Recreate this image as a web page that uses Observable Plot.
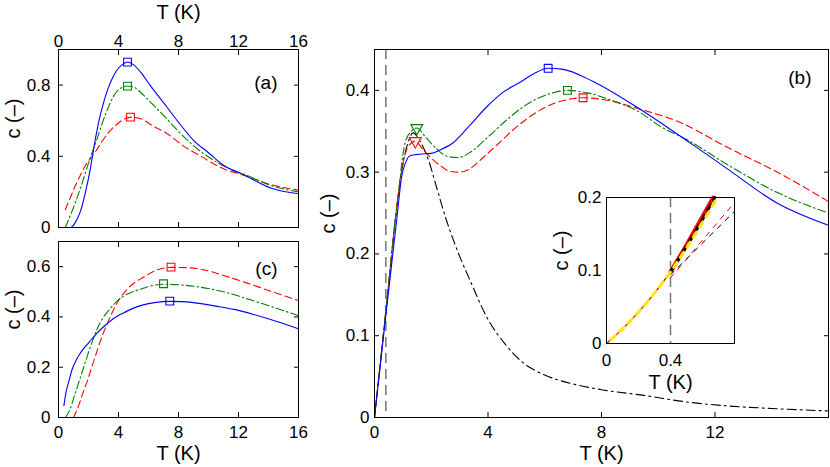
<!DOCTYPE html>
<html><head><meta charset="utf-8">
<script src="https://cdn.jsdelivr.net/npm/d3@7"></script>
<script src="https://cdn.jsdelivr.net/npm/@observablehq/plot@0.6"></script>
<style>
body{margin:0;background:#fff}
#fig{position:relative;width:830px;height:467px;overflow:hidden;background:#fff}
</style></head><body><div id="fig"></div>
<script>
// ---------- data ----------
// Panel (a)
const aBlueT = [0.45,0.8,1.2,1.5,1.8,2.1,2.4,2.7,3.0,3.3,3.6,3.9,4.25,4.6,5.0,5.5,6.1,7.2,8.1,9.0,10.0,11.0,12.5,14.2,16];
const aBlueC = [0,0,0.04,0.1,0.2,0.32,0.47,0.6,0.7,0.78,0.84,0.885,0.915,0.93,0.915,0.87,0.8,0.68,0.58,0.49,0.42,0.35,0.29,0.22,0.19];
const aGreenT = [0.45,0.8,1.15,1.5,1.82,2.15,2.5,2.85,3.2,3.5,3.85,4.2,4.6,5.1,5.65,6.3,7.0,8.0,9.0,10.8,12.5,14.2,16];
const aGreenC = [0,0.07,0.146,0.23,0.315,0.4,0.48,0.57,0.65,0.71,0.76,0.785,0.795,0.785,0.745,0.69,0.63,0.54,0.46,0.355,0.295,0.235,0.2];
const aRedT = [0.45,0.8,1.15,1.5,1.8,2.15,2.5,2.95,3.4,3.9,4.4,4.85,5.3,5.65,6.3,7.2,8.3,9.5,11.0,12.5,14.2,16];
const aRedC = [0.1,0.17,0.24,0.3,0.35,0.39,0.43,0.49,0.54,0.58,0.61,0.62,0.615,0.605,0.57,0.53,0.46,0.4,0.33,0.29,0.24,0.21];
const aPeakT = [4.6,4.6,4.8];
const aPeakC = [0.929,0.794,0.62];

// Panel (c)
const cBlueT = [0.36,0.5,0.7,0.9,1.15,1.5,2.05,2.6,3.18,3.7,4.3,5.0,5.65,6.4,7.4,8.2,9.0,10.5,11.7,13,14.5,16];
const cBlueC = [0.047,0.1,0.146,0.19,0.225,0.26,0.30,0.338,0.37,0.395,0.415,0.435,0.448,0.457,0.462,0.461,0.457,0.443,0.43,0.41,0.383,0.353];
const cGreenT = [0.47,0.75,1.03,1.3,1.6,1.95,2.27,2.6,2.95,3.4,3.85,4.4,4.97,5.7,6.3,7.0,8.0,9.5,11,12.8,14.4,16];
const cGreenC = [0,0.03,0.08,0.13,0.185,0.25,0.305,0.355,0.395,0.43,0.46,0.485,0.50,0.515,0.525,0.53,0.528,0.518,0.5,0.468,0.437,0.405];
const cRedT = [1.0,1.3,1.6,1.95,2.27,2.6,2.95,3.3,3.6,4.0,4.5,5.0,5.6,6.5,7.5,8.5,9.5,11,12.8,14.4,16];
const cRedC = [0,0.04,0.093,0.15,0.21,0.27,0.33,0.38,0.42,0.465,0.505,0.533,0.556,0.585,0.597,0.596,0.59,0.565,0.53,0.497,0.465];
const cPeakT = [7.42,7.0,7.5];
const cPeakC = [0.463,0.532,0.598];

// Panel (b)
const bBlueT = [0,0.4,0.79,0.96,1.1,1.25,1.6,2.0,2.3,2.77,3.3,3.96,4.5,5.13,5.6,6.12,6.6,7.7,9.36,11.2,12.4,14.2,16];
const bBlueC = [0,0.125,0.244,0.295,0.312,0.32,0.322,0.323,0.327,0.336,0.355,0.38,0.397,0.41,0.42,0.427,0.426,0.411,0.377,0.334,0.305,0.262,0.235];
const bGreenT = [0,0.4,0.8,1.08,1.3,1.49,1.8,2.2,2.6,2.95,3.4,4.0,4.6,5.2,5.8,6.4,6.8,7.5,8.5,9.36,10.07,11.0,12.4,14.2,16];
const bGreenC = [0,0.13,0.262,0.336,0.35,0.354,0.343,0.328,0.319,0.318,0.325,0.343,0.362,0.379,0.391,0.398,0.40,0.397,0.386,0.373,0.356,0.34,0.31,0.275,0.25];
const bRedT = [0,0.4,0.8,1.0,1.2,1.44,1.7,2.07,2.4,2.66,3.0,3.4,3.8,4.4,5.0,5.7,6.4,7.0,7.35,8.2,9.36,10.7,12.4,14.2,16];
const bRedC = [0,0.13,0.262,0.31,0.332,0.338,0.328,0.315,0.306,0.301,0.300,0.305,0.317,0.336,0.355,0.373,0.385,0.39,0.391,0.388,0.377,0.362,0.331,0.30,0.264];
const bBlackT = [0,0.4,0.8,1.0,1.2,1.36,1.6,1.9,2.2,2.5,2.8,3.4,4.0,4.6,5.2,6.0,7.0,8.0,9.5,11,12.5,14,16];
const bBlackC = [0,0.13,0.262,0.31,0.338,0.348,0.338,0.315,0.28,0.245,0.215,0.165,0.12,0.09,0.068,0.052,0.041,0.034,0.027,0.019,0.014,0.011,0.008];
const bSquareT = [6.12,6.8,7.35];
const bSquareC = [0.427,0.40,0.391];
const bTriT = [1.49,1.44];
const bTriC = [0.354,0.338];
const cutoffT = [0.4];

// Inset
const insLowT = [0,0.1,0.2,0.3,0.4];
const insLowC = [0,0.02,0.043,0.069,0.098];
const insRedT = [0.4,0.5,0.6,0.667];
const insRedC = [0.098,0.135,0.174,0.2];
const insBlackT = [0.4,0.5,0.6,0.677];
const insBlackC = [0.098,0.133,0.17,0.2];
const insYellowT = [0,0.1,0.2,0.3,0.4,0.5,0.6,0.692];
const insYellowC = [0,0.02,0.043,0.069,0.098,0.131,0.166,0.2];
const fitT = [0.4,0.8];
const fitRedC = [0.09,0.193];
const fitBlackC = [0.094,0.181];

// tick labels
const ticks16 = [0,4,8,12,16];
const ticksB = [0,4,8,12];
const ticksA = [0,0.4,0.8];
const ticksC = [0,0.2,0.4,0.6];
const ticksBy = [0,0.1,0.2,0.3,0.4];
const ticksInsX = [0,0.4];
const ticksInsY = [0,0.1,0.2];
const colors = ["#0000ff","#008000","#ff0000"];

// ---------- helpers ----------
const FONT = "'Liberation Sans', Arial, Helvetica, sans-serif";
const zip = (T, C) => T.map((t, i) => ({T: t, c: C[i]}));
const fmt = d => String(d);
const BLUE = colors[0], GREEN = colors[1], RED = colors[2];
const DASH = "7,4", DASHDOT = "8,3,1.5,3", BLACKDD = "9,4,2,4";

function line(T, C, stroke, dash) {
  return Plot.line(zip(T, C), {x: "T", y: "c", stroke, strokeWidth: 1.1, strokeDasharray: dash, curve: "monotone-x"});
}
function squares(T, C, cols) {
  return Plot.dot(zip(T, C).map((d, i) => ({...d, col: cols[i]})), {x: "T", y: "c", symbol: "square", r: 4.4, stroke: "col", fill: "none", strokeWidth: 1.1});
}
function innerTicks(xt, yt, len = 5) {
  return [
    Plot.axisX(xt, {anchor: "bottom", tickSize: len, dy: -len, fill: "none", label: null}),
    Plot.axisX(xt, {anchor: "top", tickSize: len, dy: len, fill: "none", label: null}),
    Plot.axisY(yt, {anchor: "left", tickSize: len, dx: len, fill: "none", label: null}),
    Plot.axisY(yt, {anchor: "right", tickSize: len, dx: -len, fill: "none", label: null})
  ];
}
function place(svg, left, top) {
  svg.style.position = "absolute";
  svg.style.left = left + "px";
  svg.style.top = top + "px";
  svg.style.overflow = "visible";
  document.getElementById("fig").appendChild(svg);
}
const baseStyle = {fontFamily: FONT, background: "transparent", color: "#000"};

// ---------- panel (a) ----------
place(Plot.plot({
  width: 330, height: 235, marginLeft: 58, marginRight: 32, marginTop: 49, marginBottom: 8,
  style: baseStyle,
  x: {domain: [0, 16]}, y: {domain: [0, 1.0]},
  marks: [
    line(aRedT, aRedC, RED, DASH),
    line(aGreenT, aGreenC, GREEN, DASHDOT),
    line(aBlueT, aBlueC, BLUE, null),
    squares(aPeakT, aPeakC, colors),
    ...innerTicks(ticks16, ticksA),
    Plot.axisX(ticks16, {anchor: "top", tickSize: 0, tickPadding: 3, label: null, fontSize: 17, tickFormat: fmt}),
    Plot.axisY(ticksA, {anchor: "left", tickSize: 0, tickPadding: 8, label: null, fontSize: 17, tickFormat: fmt}),
    Plot.text(["T (K)"], {frameAnchor: "top", dy: -37, fontSize: 20, lineAnchor: "middle"}),
    Plot.text(["c (–)"], {frameAnchor: "left", dx: -45, rotate: -90, fontSize: 20, lineAnchor: "middle"}),
    Plot.text(["(a)"], {frameAnchor: "top-right", dx: -21, dy: 33, fontSize: 19, textAnchor: "end", lineAnchor: "middle"}),
    Plot.frame({stroke: "#000"})
  ]
}), 0, 0);

// ---------- panel (c) ----------
place(Plot.plot({
  width: 330, height: 232, marginLeft: 58, marginRight: 32, marginTop: 6, marginBottom: 50,
  style: baseStyle,
  x: {domain: [0, 16]}, y: {domain: [0, 0.7]},
  marks: [
    line(cRedT, cRedC, RED, DASH),
    line(cGreenT, cGreenC, GREEN, DASHDOT),
    line(cBlueT, cBlueC, BLUE, null),
    squares(cPeakT, cPeakC, colors),
    ...innerTicks(ticks16, ticksC),
    Plot.axisX(ticks16, {anchor: "bottom", tickSize: 0, tickPadding: 8, label: null, fontSize: 17, tickFormat: fmt}),
    Plot.axisY(ticksC, {anchor: "left", tickSize: 0, tickPadding: 8, label: null, fontSize: 17, tickFormat: fmt}),
    Plot.text(["T (K)"], {frameAnchor: "bottom", dy: 36, fontSize: 20, lineAnchor: "middle"}),
    Plot.text(["c (–)"], {frameAnchor: "left", dx: -45, rotate: -90, fontSize: 20, lineAnchor: "middle"}),
    Plot.text(["(c)"], {frameAnchor: "top-right", dx: -21, dy: 27, fontSize: 19, textAnchor: "end", lineAnchor: "middle"}),
    Plot.frame({stroke: "#000"})
  ]
}), 0, 235);

// ---------- panel (b) ----------
place(Plot.plot({
  width: 510, height: 467, marginLeft: 54, marginRight: 2, marginTop: 49, marginBottom: 50,
  style: baseStyle,
  x: {domain: [0, 16]}, y: {domain: [0, 0.45]},
  marks: [
    Plot.ruleX(cutoffT, {stroke: "#777", strokeWidth: 1.5, strokeDasharray: "10,6"}),
    line(bBlackT, bBlackC, "#000", BLACKDD),
    line(bRedT, bRedC, RED, DASH),
    line(bGreenT, bGreenC, GREEN, DASHDOT),
    line(bBlueT, bBlueC, BLUE, null),
    squares(bSquareT, bSquareC, colors),
    Plot.dot(zip(bTriT, bTriC).map((d, i) => ({...d, col: [GREEN, RED][i]})), {x: "T", y: "c", symbol: "triangle", rotate: 180, r: 4.4, stroke: "col", fill: "none", strokeWidth: 1.1}),
    ...innerTicks(ticksB, ticksBy),
    Plot.axisX(ticksB, {anchor: "bottom", tickSize: 0, tickPadding: 8, label: null, fontSize: 17, tickFormat: fmt}),
    Plot.axisY(ticksBy, {anchor: "left", tickSize: 0, tickPadding: 5, label: null, fontSize: 17, tickFormat: fmt}),
    Plot.text(["T (K)"], {frameAnchor: "bottom", dy: 36, fontSize: 20, lineAnchor: "middle"}),
    Plot.text(["c (–)"], {frameAnchor: "left", dx: -46, rotate: -90, fontSize: 20, lineAnchor: "middle"}),
    Plot.text(["(b)"], {frameAnchor: "top-right", dx: -17, dy: 28, fontSize: 19, textAnchor: "end", lineAnchor: "middle"}),
    Plot.frame({stroke: "#000"})
  ]
}), 320, 0);

// ---------- inset ----------
place(Plot.plot({
  width: 200, height: 215, marginLeft: 66, marginRight: 6, marginTop: 12, marginBottom: 57,
  style: baseStyle,
  x: {domain: [0, 0.8]}, y: {domain: [0, 0.2]},
  marks: [
    Plot.frame({fill: "white", stroke: "none"}),
    Plot.ruleX(cutoffT, {stroke: "#777", strokeWidth: 1.5, strokeDasharray: "10,6"}),
    Plot.line(zip(fitT, fitRedC), {x: "T", y: "c", stroke: RED, strokeWidth: 1, strokeDasharray: "5,6"}),
    Plot.line(zip(fitT, fitBlackC), {x: "T", y: "c", stroke: "#000", strokeWidth: 1, strokeDasharray: "5,6"}),
    Plot.line(zip(insLowT, insLowC), {x: "T", y: "c", stroke: RED, strokeWidth: 1.3, curve: "monotone-x"}),
    Plot.line(zip(insRedT, insRedC), {x: "T", y: "c", stroke: RED, strokeWidth: 4, curve: "monotone-x"}),
    Plot.line(zip(insBlackT, insBlackC), {x: "T", y: "c", stroke: "#000", strokeWidth: 3, strokeDasharray: "6,6", curve: "monotone-x"}),
    Plot.line(zip(insYellowT, insYellowC), {x: "T", y: "c", stroke: "#ffe800", strokeWidth: 3, strokeDasharray: "6,6", strokeDashoffset: 6, curve: "monotone-x"}),
    Plot.axisX(ticksInsX, {anchor: "bottom", tickSize: 0, tickPadding: 10, label: null, fontSize: 17, tickFormat: fmt}),
    Plot.axisY(ticksInsY, {anchor: "left", tickSize: 0, tickPadding: 5, label: null, fontSize: 17, tickFormat: fmt}),
    Plot.text(["T (K)"], {frameAnchor: "bottom", dy: 39, fontSize: 20, lineAnchor: "middle"}),
    Plot.text(["c (–)"], {frameAnchor: "left", dx: -45, rotate: -90, fontSize: 20, lineAnchor: "middle"}),
    Plot.frame({stroke: "#000"})
  ]
}), 540, 185);
</script>
</body></html>
